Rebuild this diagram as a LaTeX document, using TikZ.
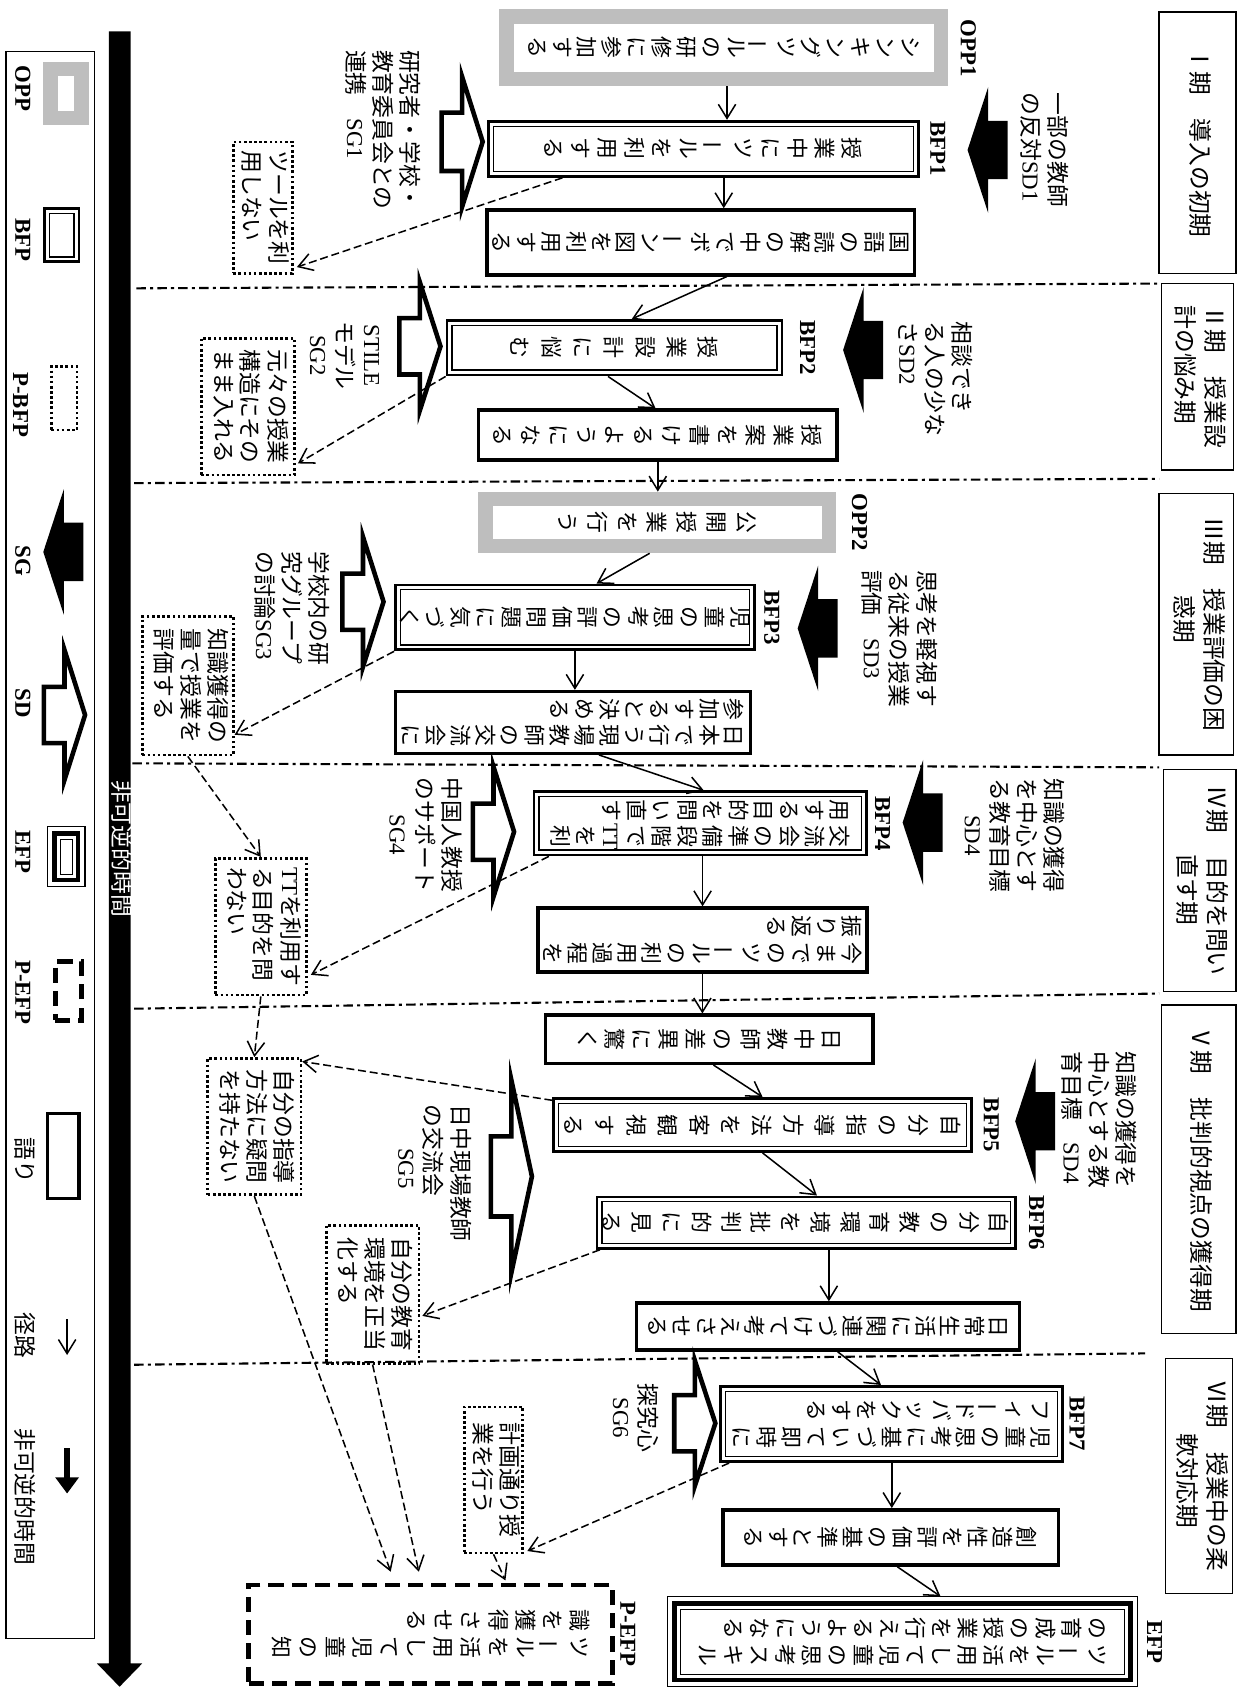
\documentclass[tikz,border=0pt]{standalone}
\usepackage{fontspec}
\setmainfont{Liberation Serif}
\newfontfamily\jp{Noto Sans CJK JP}
\usepackage{tikz}
\usetikzlibrary{arrows.meta,calc,positioning}
\definecolor{oppgrey}{RGB}{190,190,190}

% vertical (tategaki) columns, turned with the page
\makeatletter
\newlength\tpitch
\newlength\tcolsep \setlength\tcolsep{0.07cm}
\def\tc@bar{ー}
\newcommand\tcol[1]{\vtop{\baselineskip=\tpitch\lineskiplimit=-\maxdimen\lineskip=0pt
  \@tfor\tc@x:=#1\do{\hbox to 1.05em{\hss\ifx\tc@x\tc@bar\rotatebox[origin=c]{90}{ー}\else\tc@x\fi\hss}}}}
\newcommand\tateA[2][0.48cm]{\rotatebox{-90}{\tpitch=#1\relax\tcol{#2}}}
\newcommand\tateB[3][0.48cm]{\rotatebox{-90}{\tpitch=#1\relax\tcol{#3}\kern\tcolsep\tcol{#2}}}
\makeatother
\newcommand\yoko[2][l]{\rotatebox{-90}{\begin{tabular}{@{}#1@{}}#2\end{tabular}}}
\newcommand\ltn[1]{{\rmfamily #1}}

\tikzset{
  boxfont/.style={font=\jp\fontsize{11.5}{13}\selectfont},
  labfont/.style={font=\jp\fontsize{12}{14}\selectfont},
  plainbox/.style={draw, line width=1.8pt, inner sep=0pt, boxfont},
  bfpbox/.style={draw, line width=1.5pt, inner sep=0pt, boxfont,
    path picture={\draw[line width=0.6pt] ([shift={(2.6pt,2.6pt)}]path picture bounding box.south west)
      rectangle ([shift={(-2.6pt,-2.6pt)}]path picture bounding box.north east);}},
  oppbox/.style={draw=oppgrey, line width=0.27cm, inner sep=0pt, boxfont},
  efpbox/.style={draw, line width=0.6pt, inner sep=0pt, boxfont,
    path picture={\draw[line width=2.4pt] ([shift={(3.6pt,3.6pt)}]path picture bounding box.south west)
      rectangle ([shift={(-3.6pt,-3.6pt)}]path picture bounding box.north east);
      \draw[line width=0.6pt] ([shift={(6.6pt,6.6pt)}]path picture bounding box.south west)
      rectangle ([shift={(-6.6pt,-6.6pt)}]path picture bounding box.north east);}},
  pefpbox/.style={draw, line width=2.6pt, dash pattern=on 0.28cm off 0.15cm, inner sep=0pt, boxfont},
  pbfpbox/.style={draw, line width=1.4pt, dash pattern=on 1.4pt off 1.3pt, inner sep=0pt, labfont},
  lab/.style={inner sep=1pt, labfont},
  period/.style={draw, line width=0.7pt, inner sep=0pt, font=\jp\fontsize{12.5}{15.6}\selectfont},
  tag/.style={inner sep=2pt, font=\bfseries\fontsize{12}{14}\selectfont},
  route/.style={line width=0.8pt, -{Straight Barb[length=2.6mm,width=3.2mm]}},
  dashroute/.style={route, dash pattern=on 4.2pt off 2pt},
  sep/.style={line width=1.1pt, dash pattern=on 5pt off 2.2pt on 1.6pt off 2.2pt},
  sdarrow/.pic={\fill (0,0) -- (19,-58) -- (19,-27) -- (37,-27) -- (37,27) -- (19,27) -- (19,58) -- cycle;},
  pics/sgarrow/.style 2 args={code={\draw[line width=2.4pt, fill=white]
    (0,0) -- (-19,-#1) -- (-19,-#2) -- (-38,-#2) -- (-38,#2) -- (-19,#2) -- (-19,#1) -- cycle;}},
}

\begin{document}
\begin{tikzpicture}[x=0.02cm, y=-0.02cm]
  \useasboundingbox (0,0) rectangle (1145,1568);

  % legend
  \draw[line width=0.6pt] (5.5,47.7) rectangle (87.7,1513.8);
  \node[tag] (keyopplab) at (21,82) {\rotatebox{-90}{OPP}};
  \node[oppbox, minimum width=0.58cm, minimum height=0.9cm] (keyopp) at (61,86.4) {};
  \node[tag] (keybfplab) at (21,222) {\rotatebox{-90}{BFP}};
  \node[bfpbox, minimum width=0.64cm, minimum height=0.98cm] (keybfp) at (57,217.5) {};
  \node[tag] (keypbfplab) at (19,374) {\rotatebox{-90}{P-BFP}};
  \node[pbfpbox, minimum width=0.47cm, minimum height=1.17cm] (keypbfp) at (59.3,368) {};
  \node[tag] (keysglab) at (21,518) {\rotatebox{-90}{SG}};
  \pic at (40,510) {sdarrow};
  \node[tag] (keysdlab) at (21,650) {\rotatebox{-90}{SD}};
  \pic at (78.6,660.6) {sgarrow={60}{26}};
  \node[tag] (keyefplab) at (21,787) {\rotatebox{-90}{EFP}};
  \node[efpbox, minimum width=0.69cm, minimum height=1.11cm] (keyefp) at (61.3,791.5) {};
  \node[tag] (keypefplab) at (21,917) {\rotatebox{-90}{P-EFP}};
  \node[pefpbox, minimum width=0.48cm, minimum height=1.08cm] (keypefp) at (63,915.5) {};
  \node[lab] (keytalklab) at (20,1072) {\yoko{語り}};
  \node[plainbox, minimum width=0.58cm, minimum height=1.57cm] (keytalk) at (58.5,1068) {};
  \node[lab] (keyroutelab) at (20,1234) {\yoko{径路}};
  \draw[route] (62,1219) -- (62,1252);
  \node[lab] (keytimelab) at (20,1383) {\yoko{非可逆的時間}};
  \draw[line width=3.4pt, -{Triangle[length=3mm,width=4.2mm]}] (62,1338) -- (62,1380);

  % irreversible time
  \fill (100.5,29) -- (120.6,29) -- (120.6,1537) -- (131.4,1537) -- (110.5,1558.5)
    -- (89.6,1537) -- (100.5,1537) -- cycle;
  \node[lab, text=white] (timelab) at (110.5,784) {\yoko{非可逆的時間}};

  % period borders
  \draw[sep] (126,266.4) -- (1071,262);
  \draw[sep] (124,446.4) -- (1071,442.4);
  \draw[sep] (122.4,705.3) -- (1071,709);
  \draw[sep] (124,932) -- (1071,918);
  \draw[sep] (124,1261) -- (1058,1250.5);

  % periods
  \node[period, minimum width=1.42cm, minimum height=4.83cm] (per1) at (1106.5,131.75) {\yoko{Ⅰ期　導入の初期}};
  \node[period, minimum width=1.34cm, minimum height=3.45cm] (per2) at (1106.5,348.15) {\yoko{Ⅱ期　授業設\\計の悩み期}};
  \node[period, minimum width=1.38cm, minimum height=4.83cm] (per3) at (1105.5,576.8) {\yoko{Ⅲ期　授業評価の困\\\hspace*{3.3em}惑期}};
  \node[period, minimum width=1.34cm, minimum height=4.11cm] (per4) at (1108.5,813.65) {\yoko{Ⅳ期　目的を問い\\\hspace*{2.9em}直す期}};
  \node[period, minimum width=1.38cm, minimum height=6.07cm] (per5) at (1107.5,1080.3) {\yoko{Ⅴ期　批判的視点の獲得期}};
  \node[period, minimum width=1.24cm, minimum height=4.35cm] (per6) at (1108,1363.8) {\yoko{Ⅵ期　授業中の柔\\\hspace*{2.2em}軟対応期}};

  % main path
  \node[oppbox, minimum width=8.03cm, minimum height=1.15cm] (opp1) at (668.75,44.25) {\tateA[0.46cm]{シンキングツールの研修に参加する}};
  \node[bfpbox, minimum width=7.95cm, minimum height=1.02cm] (bfp1) at (649.75,137.5) {\tateA[0.5cm]{授業中にツールを利用する}};
  \node[plainbox, minimum width=7.9cm, minimum height=1.2cm] (bone) at (647.5,224) {\tateA[0.46cm]{国語の読解の中でボーン図を利用する}};
  \node[bfpbox, minimum width=6.19cm, minimum height=1.01cm] (bfp2) at (567.8,321.25) {\tateA[0.58cm]{授業設計に悩む}};
  \node[plainbox, minimum width=6.63cm, minimum height=0.92cm] (plan) at (607.8,402) {\tateA[0.52cm]{授業案を書けるようになる}};
  \node[oppbox, minimum width=6.35cm, minimum height=0.87cm] (opp2) at (607.25,482.75) {\tateA[0.55cm]{公開授業を行う}};
  \node[bfpbox, minimum width=6.63cm, minimum height=1.2cm] (bfp3) at (531.2,570.5) {\tateA[0.47cm]{児童の思考の評価問題に気づく}};
  \node[plainbox, minimum width=6.56cm, minimum height=1.14cm] (meet) at (529.4,667.5) {\tateB[0.46cm]{日本で行う現場教師の交流会に}{参加すると決める}};
  \node[bfpbox, minimum width=6.15cm, minimum height=1.17cm] (bfp4) at (647.15,760.75) {\tateB[0.47cm]{交流会の準備段階で{\rmfamily TT}を利}{用する目的を問い直す}};
  \node[plainbox, minimum width=6.08cm, minimum height=1.18cm] (review) at (649,868.5) {\tateB[0.46cm]{今までのツールの利用過程を}{振り返る}};
  \node[plainbox, minimum width=6.05cm, minimum height=0.89cm] (diff) at (655.25,960.25) {\tateA[0.5cm]{日中教師の差異に驚く}};
  \node[bfpbox, minimum width=7.72cm, minimum height=0.98cm] (bfp5) at (704.65,1039.5) {\tateA[0.58cm]{自分の指導方法を客観視する}};
  \node[bfpbox, minimum width=7.73cm, minimum height=0.95cm] (bfp6) at (744.85,1129.7) {\tateA[0.55cm]{自分の教育環境を批判的に見る}};
  \node[plainbox, minimum width=7.08cm, minimum height=0.87cm] (daily) at (765,1225.7) {\tateA[0.45cm]{日常生活に関連づけて考えさせる}};
  \node[bfpbox, minimum width=6.32cm, minimum height=1.39cm] (bfp7) at (824,1315.75) {\tateB[0.46cm]{児童の思考に基づいて即時に}{フィードバックをする}};
  \node[plainbox, minimum width=6.2cm, minimum height=1.02cm] (create) at (823,1420.5) {\tateA[0.46cm]{創造性を評価の基準とする}};
  \node[efpbox, minimum width=8.68cm, minimum height=1.66cm] (efp) at (834,1517) {\tateB[0.48cm]{ツールを活用して児童の思考スキル}{の育成の授業を行えるようになる}};
  \node[pefpbox, minimum width=6.72cm, minimum height=1.82cm] (pefp) at (398,1510) {\tateB[0.5cm]{ツールを活用して児童の知}{識を獲得させる}};

  % tags
  \node[tag, right=0.15cm of opp1] (opp1tag) {\rotatebox{-90}{OPP1}};
  \node[tag, right=0.12cm of bfp1] (bfp1tag) {\rotatebox{-90}{BFP1}};
  \node[tag, right=0.23cm of bfp2] (bfp2tag) {\rotatebox{-90}{BFP2}};
  \node[tag, right=0.21cm of opp2] (opp2tag) {\rotatebox{-90}{OPP2}};
  \node[tag, right=0.08cm of bfp3] (bfp3tag) {\rotatebox{-90}{BFP3}};
  \node[tag, right=0.05cm of bfp4] (bfp4tag) {\rotatebox{-90}{BFP4}};
  \node[tag, right=0.12cm of bfp5] (bfp5tag) {\rotatebox{-90}{BFP5}};
  \node[tag, right=0.15cm of bfp6] (bfp6tag) {\rotatebox{-90}{BFP6}};
  \node[tag, right=0.02cm of bfp7] (bfp7tag) {\rotatebox{-90}{BFP7}};
  \node[tag, right=0.09cm of efp] (efptag) {\rotatebox{-90}{EFP}};
  \node[tag, right=0.02cm of pefp] (pefptag) {\rotatebox{-90}{P-EFP}};

  % P-BFP
  \node[pbfpbox, minimum width=1.09cm, minimum height=2.43cm] (pbfpa) at (242.8,191.8) {\yoko{ツールを利\\用しない}};
  \node[pbfpbox, minimum width=1.72cm, minimum height=2.53cm] (pbfpb) at (229,375.75) {\yoko{元々の授業\\構造にその\\まま入れる}};
  \node[pbfpbox, minimum width=1.68cm, minimum height=2.56cm] (pbfpc) at (173.55,633.7) {\yoko{知識獲得の\\量で授業を\\評価する}};
  \node[pbfpbox, minimum width=1.68cm, minimum height=2.53cm] (pbfpd) at (241,856.25) {\yoko{\ltn{TT}を利用す\\る目的を問\\わない}};
  \node[pbfpbox, minimum width=1.72cm, minimum height=2.52cm] (pbfpe) at (235,1041) {\yoko{自分の指導\\方法に疑問\\を持たない}};
  \node[pbfpbox, minimum width=1.71cm, minimum height=2.55cm] (pbfpf) at (344.25,1195.85) {\yoko{自分の教育\\環境を正当\\化する}};
  \node[pbfpbox, minimum width=1.08cm, minimum height=2.7cm] (pbfpg) at (456,1367.4) {\yoko{計画通り授\\業を行う}};

  % SD
  \pic at (894,138.6) {sdarrow};
  \node[lab] (sd1lab) at (962.5,138.5) {\yoko{一部の教師\\の反対\ltn{SD1}}};
  \pic at (779,323.4) {sdarrow};
  \node[lab] (sd2lab) at (861,350) {\yoko{相談でき\\る人の少な\\さ\ltn{SD2}}};
  \pic at (737,580.6) {sdarrow};
  \node[lab] (sd3lab) at (828.4,590) {\yoko{思考を軽視す\\る従来の授業\\評価　\ltn{SD3}}};
  \pic at (834,760) {sdarrow};
  \node[lab] (sd4lab) at (934,772) {\yoko[c]{知識の獲得\\を中心とす\\る教育目標\\\ltn{SD4}}};
  \pic at (938,1036) {sdarrow};
  \node[lab] (sd5lab) at (1013,1035) {\yoko{知識の獲得を\\中心とする教\\育目標　\ltn{SD4}}};

  % SG
  \pic at (446,131) {sgarrow={60}{27}};
  \node[lab] (sg1lab) at (351,120) {\yoko{研究者・学校・\\教育委員会との\\連携　\ltn{SG1}}};
  \pic at (407,320) {sgarrow={59}{26}};
  \node[lab] (sg2lab) at (316.5,328.5) {\yoko[c]{\ltn{STILE}\\モデル\\\ltn{SG2}}};
  \pic at (354.4,556) {sgarrow={60}{26}};
  \node[lab] (sg3lab) at (267,562) {\yoko{学校内の研\\究グループ\\の討論\ltn{SG3}}};
  \pic at (475,768.5) {sgarrow={60}{26}};
  \node[lab] (sg4lab) at (390,771.5) {\yoko[c]{中国人教授\\のサポート\\\ltn{SG4}}};
  \pic at (491.5,1087) {sgarrow={89}{37}};
  \node[lab] (sg5lab) at (398,1084) {\yoko{日中現場教師\\の交流会\\\hspace*{1.9em}\ltn{SG5}}};
  \pic at (661,1315) {sgarrow={58}{26}};
  \node[lab] (sg6lab) at (584,1310) {\yoko[c]{探究心\\\ltn{SG6}}};

  % routes
  \draw[route] ($(opp1.south)+(3,0)$) coordinate (r1) -- (r1 |- bfp1.north);
  \draw[route] ($(bfp1.south)+(19,0)$) coordinate (r2) -- (r2 |- bone.north);
  \draw[route] ($(bone.south)+(24,0)$) -- ($(bfp2.north)+(16,0)$);
  \draw[route] ($(bfp2.south)+(-6,0)$) -- ($(plan.north)+(-2,0)$);
  \draw[route] (plan.south) coordinate (r5) -- (r5 |- opp2.north);
  \draw[route] ($(opp2.south)+(-7,0)$) -- ($(bfp3.north)+(20,0)$);
  \draw[route] (bfp3.south) coordinate (r7) -- (r7 |- meet.north);
  \draw[route] ($(meet.south)+(24,0)$) -- ($(bfp4.north)+(3,0)$);
  \draw[route] ($(bfp4.south)+(2,0)$) coordinate (r9) -- (r9 |- review.north);
  \draw[route] (review.south) coordinate (r10) -- (r10 |- diff.north);
  \draw[route] ($(diff.south)+(4,0)$) -- (bfp5.north);
  \draw[route] (bfp5.south) -- ($(bfp6.north)+(10,0)$);
  \draw[route] ($(bfp6.south)+(21,0)$) coordinate (r13) -- (r13 |- daily.north);
  \draw[route] ($(daily.south)+(9,0)$) -- ($(bfp7.north)+(-10,0)$);
  \draw[route] (bfp7.south) coordinate (r15) -- (r15 |- create.north);
  \draw[route] ($(create.south)+(6,0)$) -- ($(efp.north)+(35,0)$);

  % dashed routes
  \draw[dashroute] ($(bfp1.south west)+(70,0)$) -- ($(pbfpa.south east)+(3,-7)$);
  \draw[dashroute] (bfp2.south west) -- ($(pbfpb.south east)+(2,-12)$);
  \draw[dashroute] (bfp3.south west) -- ($(pbfpc.south east)+(0,-20)$);
  \draw[dashroute] (pbfpc.south) -- (pbfpd.north);
  \draw[dashroute] ($(bfp4.south west)+(15,0)$) -- ($(pbfpd.south east)+(3,-20)$);
  \draw[dashroute] (pbfpd.south) -- (pbfpe.north);
  \draw[dashroute] ($(bfp5.north west)+(0,3)$) -- ($(pbfpe.north east)+(0,4)$);
  \draw[dashroute] ($(bfp6.south west)+(4,0)$) -- ($(pbfpf.east)+(2,20)$);
  \draw[dashroute] (pbfpe.south) -- ($(pefp.north)+(-37,-10)$);
  \draw[dashroute] (pbfpf.south) -- ($(pefp.north)+(-11,-10)$);
  \draw[dashroute] (pbfpg.south) -- ($(pefp.north)+(69,-2)$);
  \draw[dashroute] ($(bfp7.south west)+(9,0)$) -- ($(pbfpg.south east)+(3,-3)$);
\end{tikzpicture}
\end{document}
